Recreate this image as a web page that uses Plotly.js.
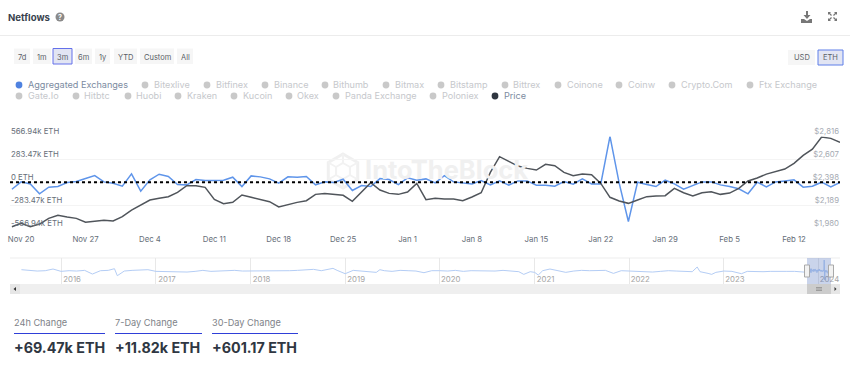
<!DOCTYPE html>
<html><head><meta charset="utf-8">
<script src="https://cdn.plot.ly/plotly-3.0.1.min.js"></script>
<style>html,body{margin:0;padding:0;background:#fff;overflow:hidden}#c{width:850px;height:377px}</style>
</head><body><div id="c"></div>
<script>
const W = 850, H = 377;
const FONT = 'Inter, "Noto Sans", sans-serif';

// --- Main chart data (daily, 2023-11-19 .. 2024-02-17)
const startDate = '2023-11-19';
const netflowK = [-87,4,-21,-144,-62,-54,-4,8,45,82,4,-12,
  -49,103,-111,29,99,70,-29,-33,33,21,21,25,62,-54,78,66,41,-12,66,62,70,-33,4,-4,37,-103,-41,-54,45,33,-29,
  54,25,41,-8,82,4,-4,-21,21,-33,16,-37,16,16,-37,-37,-49,8,-25,41,-21,-21,566,-12,-487,0,-29,-54,25,-21,-87,
  -41,4,4,-33,-54,-82,-144,0,-58,4,16,29,-62,-49,0,-58,-4];
const priceUsd = [1992,2023,1992,2016,2068,2096,2080,2068,2032,2038,2050,2044,
  2083,2144,2190,2235,2251,2266,2305,2366,2366,2351,2241,2202,2214,2281,2260,2238,2220,2172,2196,2214,2229,2287,2296,2284,2278,2223,2308,2393,2327,2296,2287,
  2308,2387,2238,2251,2244,2244,2229,2263,2302,2488,2631,2588,2545,2524,2509,2561,2548,2488,2457,2472,2466,2387,2260,2226,2205,2235,2266,2272,2275,2342,2302,
  2272,2302,2311,2287,2299,2342,2409,2436,2472,2497,2518,2570,2643,2700,2810,2798,2761];

// --- Axis labels
const leftTickVals = [-566.94,-283.47,0,283.47,566.94];
const leftTickText = ['-566.94k ETH','-283.47k ETH','0 ETH','283.47k ETH','566.94k ETH'];
const rightTickVals = [1980,2189,2398,2607,2816];
const rightTickText = ['$1,980','$2,189','$2,398','$2,607','$2,816'];
const weekTicks = ['2023-11-20','2023-11-27','2023-12-04','2023-12-11','2023-12-18','2023-12-25','2024-01-01','2024-01-08','2024-01-15','2024-01-22','2024-01-29','2024-02-05','2024-02-12'];
const yearTicks = ['2016-01-01','2017-01-01','2018-01-01','2019-01-01','2020-01-01','2021-01-01','2022-01-01','2023-01-01','2024-01-01'];

// --- Overview (navigator) history up to the main window
const navDates = ['2015-08-01','2015-09-01','2015-10-01','2015-11-01','2015-12-01',
 '2016-01-01','2016-02-01','2016-03-01','2016-04-01','2016-05-01','2016-06-01','2016-07-01','2016-07-25','2016-08-05','2016-09-01','2016-10-01','2016-11-01','2016-12-01',
 '2017-01-01','2017-02-01','2017-03-01','2017-04-01','2017-05-01','2017-06-01','2017-07-01','2017-08-01','2017-09-01','2017-10-01','2017-11-01','2017-12-01',
 '2018-01-01','2018-02-01','2018-03-01','2018-04-01','2018-05-01','2018-06-01','2018-07-01','2018-08-01','2018-09-01','2018-10-01','2018-11-15','2018-12-01',
 '2019-01-01','2019-02-01','2019-03-01','2019-04-01','2019-05-01','2019-05-15','2019-06-01','2019-07-01','2019-08-01','2019-09-01','2019-10-01','2019-11-01','2019-12-01',
 '2020-01-01','2020-02-01','2020-03-01','2020-04-01','2020-05-01','2020-06-01','2020-07-01','2020-08-01','2020-09-01','2020-10-01','2020-11-01','2020-11-20','2020-12-15',
 '2021-01-01','2021-01-15','2021-02-01','2021-03-01','2021-04-01','2021-05-01','2021-06-01','2021-07-01','2021-08-01','2021-09-01','2021-10-01','2021-11-01','2021-12-01',
 '2022-01-01','2022-02-01','2022-03-01','2022-04-01','2022-05-01','2022-06-01','2022-07-01','2022-08-01','2022-09-01','2022-09-20','2022-10-01','2022-11-01','2022-11-15','2022-12-01',
 '2023-01-01','2023-02-01','2023-03-01','2023-03-10','2023-04-01','2023-05-01','2023-06-01','2023-07-01','2023-08-01','2023-09-01','2023-10-01','2023-11-01'];
const navValuesK = [53,0,-18,0,88,
 -35,0,-18,18,-177,0,18,106,-265,-18,18,18,53,
 -35,-53,-71,-53,-71,-35,18,-35,-18,-18,18,-18,
 -18,0,-35,0,-35,0,18,35,71,0,124,18,
 -159,18,-18,-18,-88,53,0,-35,18,0,-18,-106,0,
 0,-18,18,-35,0,-18,0,-18,18,-18,-53,-195,-53,
 -88,-230,0,88,0,-88,-18,18,0,18,18,-142,0,
 -18,-35,-18,-71,-35,0,-18,-53,-53,195,-53,-142,-195,-88,
 -18,-35,-124,-159,-35,-53,-53,-35,-53,-35,-35,-53];

// --- Header, buttons, legend, stats
const titleText = 'Netflows';
const rangeButtons = [['7d',14,30],['1m',33,51],['3m',53,72],['6m',75,92],['1y',95,110],['YTD',114,137],['Custom',140,174],['All',177,193]];
const unitButtons = [['USD',788,815],['ETH',818,843]];
const legendItems = [
 ['Aggregated Exchanges',19,28,85,'#4f82e0','#7c8ba1'],['Bitexlive',145,154,85],['Bitfinex',207,216,85],['Binance',265,274,85],['Bithumb',325,333,85],['Bitmax',386,395,85],
 ['Bitstamp',441,450,85],['Bittrex',505,513,85],['Coinone',558,567,85],['Coinw',619,628,85],['Crypto.Com',672,681,85],['Ftx Exchange',750,759,85],
 ['Gate.Io',19,28,96],['Hitbtc',76,84,96],['Huobi',128,136,96],['Kraken',178,187,96],['Kucoin',234,243,96],['Okex',289,297,96],['Panda Exchange',336,345,96],['Poloniex',433,442,96],
 ['Price',495,504,96,'#2f3640','#7c8ba1']];
const stats = [['24h Change','+69.47k ETH',14,105],['7-Day Change','+11.82k ETH',115,202],['30-Day Change','+601.17 ETH',212,298]];

// --- Pixel helpers (decoration only)
const px = x => x / W, py = y => 1 - y / H;
const annotations = [], shapes = [];
function label(text, x, y, size, color, anchor, weight) {
  annotations.push({text: weight ? '<b>' + text + '</b>' : text, x: px(anchor === 'center' ? x : x - 1), y: py(y), xref: 'paper', yref: 'paper',
    xanchor: anchor || 'left', yanchor: 'middle', showarrow: false, borderpad: 0,
    font: {family: FONT, size, color}});
}
function rect(x0, y0, x1, y1, fill, line, lw, layer) {
  shapes.push({type: 'rect', xref: 'paper', yref: 'paper', x0: px(x0), x1: px(x1), y0: py(y1), y1: py(y0),
    fillcolor: fill, line: {color: line || 'rgba(0,0,0,0)', width: line ? (lw || 1) : 0}, layer: layer || 'below'});
}
function dot(cx, cy, r, fill) {
  shapes.push({type: 'circle', xref: 'paper', yref: 'paper', x0: px(cx - r), x1: px(cx + r), y0: py(cy + r), y1: py(cy - r),
    fillcolor: fill, line: {width: 0}, layer: 'above'});
}
function poly(points, fill, line, lw, closed, layer) {
  const d = points.map((p, i) => (i ? 'L' : 'M') + px(p[0]).toFixed(5) + ',' + py(p[1]).toFixed(5)).join(' ') + (closed ? ' Z' : '');
  shapes.push({type: 'path', xref: 'paper', yref: 'paper', path: d, fillcolor: fill || 'rgba(0,0,0,0)',
    line: {color: line || 'rgba(0,0,0,0)', width: line ? (lw || 1) : 0}, layer: layer || 'above'});
}

// Header
label(titleText, 8, 17, 9.6, '#39424e', 'left', true);
dot(60, 17, 4.5, '#8a8a8a');
label('?', 60, 17, 7, '#ffffff', 'center', true);
rect(0, 35, 850, 36, '#ececec');
poly([[806,11],[808,11],[808,15],[810.5,15],[807,19],[803.5,15],[806,15]], '#777777');
poly([[801,19],[804,19],[807,21],[810,19],[812,19],[812,23],[801,23]], '#777777', null, 0, true);
[[828,12,1,1],[837,12,-1,1],[828,21,1,-1],[837,21,-1,-1]].forEach(c => {
  poly([[c[0],c[1]],[c[0]+3*c[2],c[1]],[c[0],c[1]+3*c[3]]], '#777777', null, 0, true);
  poly([[c[0]+c[2],c[1]+c[3]],[c[0]+3.5*c[2],c[1]+3.5*c[3]]], null, '#777777', 1.2);
});

// Buttons
rangeButtons.forEach(b => {
  const sel = b[0] === '3m';
  rect(b[1], 48.5, b[2], 64, sel ? '#e2e5f3' : '#f6f6f6', sel ? '#6470ea' : null, 1);
  label(b[0], (b[1] + b[2]) / 2, 57.5, 7.5, '#5a5f66', 'center');
});
unitButtons.forEach(b => {
  const sel = b[0] === 'ETH';
  rect(b[1], 50, b[2], 65, sel ? '#e2e5f3' : '#f6f6f6', sel ? '#5f7fe8' : null, 1);
  label(b[0], (b[1] + b[2]) / 2, 57.5, 7.5, '#5a5f66', 'center');
});

// Legend
legendItems.forEach(it => {
  dot(it[1], it[3], 3.4, it[4] || '#c9c9c9');
  label(it[0], it[2], it[3], 9.1, it[5] || '#c6c8cc');
});

// Watermark
const hex = (cx, cy, r) => [0,1,2,3,4,5].map(i => [cx + r * Math.sin(i * Math.PI / 3), cy - r * Math.cos(i * Math.PI / 3)]);
const hx = hex(343, 171, 17), ci = hex(343, 171, 8);
poly(hx, null, '#f0f0f0', 3, true, 'below');
poly(ci, null, '#f2f2f2', 2, true, 'below');
[0,1,2,3,4,5].forEach(i => poly([hx[i], ci[i]], null, '#f2f2f2', 2, false, 'below'));
label('IntoTheBlock', 365, 170, 25.5, '#f0f0f0', 'left', true);

// Zero line
shapes.push({type: 'line', xref: 'paper', yref: 'y', x0: px(10), x1: px(840), y0: 0, y1: 0,
  line: {color: '#000000', width: 2, dash: 'dot'}, layer: 'above'});

// Navigator furniture
rect(10, 257.5, 840, 258.5, '#eeeeee');
rect(10, 284, 840, 294, '#efefef');
rect(10, 284, 20, 294, '#e6e6e6');
rect(831, 284, 840, 294, '#e6e6e6');
rect(807, 284, 831, 294, '#cccccc');
poly([[13.5,289],[16,287],[16,291]], '#333333', null, 0, true);
poly([[836.5,289],[834.5,287],[834.5,291]], '#333333', null, 0, true);
[287.5,289,290.5].forEach(y => poly([[816,y],[822,y]], null, '#8f8f8f', 0.8));
rect(807, 258, 831, 284, 'rgba(95,125,195,0.33)', null, 0, 'above');
[807, 831].forEach(x => {
  shapes.push({type: 'rect', xref: 'paper', yref: 'paper', x0: px(x - 2.5), x1: px(x + 2.5), y0: py(277), y1: py(265),
    fillcolor: '#f2f2f2', line: {color: '#a9a9a9', width: 1}, layer: 'above'});
});

// Stats
stats.forEach(s => {
  label(s[0], s[2], 322, 9.2, '#7e8288');
  rect(s[2], 333, s[3], 334, '#2f3fd8');
  label(s[1], s[2], 347.5, 14.3, '#2f3742', 'left', true);
});

// Dates for the daily series
const dailyDates = netflowK.map((_, i) => {
  const d = new Date(startDate + 'T00:00:00Z'); d.setUTCDate(d.getUTCDate() + i);
  return d.toISOString().slice(0, 10);
});

const traces = [
  {x: dailyDates, y: netflowK, name: 'Aggregated Exchanges', type: 'scatter', mode: 'lines',
   line: {color: '#5f95ea', width: 1.5}, xaxis: 'x', yaxis: 'y', hoverinfo: 'skip'},
  {x: dailyDates, y: priceUsd, name: 'Price', type: 'scatter', mode: 'lines',
   line: {color: '#50555b', width: 1.5}, xaxis: 'x', yaxis: 'y2', hoverinfo: 'skip'},
  {x: navDates.concat(dailyDates), y: navValuesK.concat(netflowK), name: 'Overview', type: 'scatter', mode: 'lines',
   line: {color: '#b4cdf5', width: 1}, xaxis: 'x2', yaxis: 'y3', hoverinfo: 'skip'}
];

const layout = {
  width: W, height: H, margin: {l: 0, r: 0, t: 0, b: 0}, showlegend: false,
  paper_bgcolor: '#ffffff', plot_bgcolor: 'rgba(0,0,0,0)',
  font: {family: FONT},
  annotations, shapes,
  xaxis: {domain: [px(10), px(840)], anchor: 'y', type: 'date', range: ['2023-11-18 19:00', '2024-02-17 00:00'],
    tickvals: weekTicks, tickformat: '%b %-d', showgrid: false, zeroline: false, showline: false, ticks: '',
    ticklabeloverflow: 'allow', tickfont: {family: FONT, size: 7.8, color: '#666e78'}, ticklabelstandoff: 5},
  yaxis: {domain: [py(228), py(136.4)], range: [-566.94, 566.94], tickvals: leftTickVals, ticktext: leftTickText,
    ticklabelposition: 'inside', ticklabeloverflow: 'allow', ticklabelshift: -5, ticklabelstandoff: -2, showgrid: true, gridcolor: '#f4f4f4', gridwidth: 1, zeroline: false, showline: false, ticks: '',
    tickfont: {family: FONT, size: 7.8, color: '#666e78'}},
  yaxis2: {domain: [py(228), py(136.4)], overlaying: 'y', side: 'right', anchor: 'x', range: [1980, 2816], tickvals: rightTickVals, ticktext: rightTickText,
    ticklabelposition: 'inside', ticklabeloverflow: 'allow', ticklabelshift: -5, ticklabelstandoff: -2, showgrid: false, zeroline: false, showline: false, ticks: '',
    tickfont: {family: FONT, size: 7.8, color: '#a6abb3'}},
  xaxis2: {domain: [px(10), px(840)], anchor: 'y3', type: 'date', range: ['2015-06-18', '2024-03-24'],
    tickvals: yearTicks, tickformat: '%Y', showgrid: true, gridcolor: '#e8e8e8', zeroline: false, showline: false, ticks: '',
    ticklabelposition: 'inside', ticklabeloverflow: 'allow', ticklabelshift: 11, ticklabelstandoff: -3, tickfont: {family: FONT, size: 7.8, color: '#a5a5a5'}},
  yaxis3: {domain: [py(284), py(258)], anchor: 'x2', range: [-704, 672], showticklabels: false, showgrid: false, zeroline: false, showline: false, ticks: ''}
};

Plotly.newPlot('c', traces, layout, {staticPlot: true, displayModeBar: false});
</script></body></html>
